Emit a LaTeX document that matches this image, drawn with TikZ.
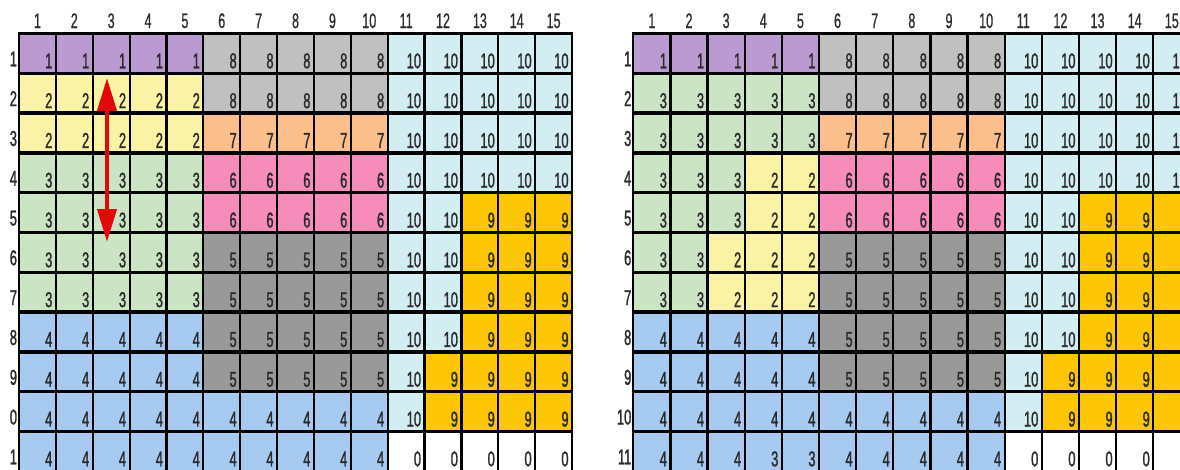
\documentclass[tikz,border=0pt]{standalone}
\usepackage{fontspec}
\newfontfamily\condfont[FakeStretch=0.6,FakeBold=1.2]{Liberation Sans}
\newfontfamily\hdrfont[FakeStretch=0.6,FakeBold=0.6]{Liberation Sans}
\usetikzlibrary{arrows.meta}
\definecolor{k0}{HTML}{FFFFFF}
\definecolor{k1}{HTML}{BA9AD0}
\definecolor{k2}{HTML}{FAF2A4}
\definecolor{k3}{HTML}{CBE4C4}
\definecolor{k4}{HTML}{A6CAF0}
\definecolor{k5}{HTML}{999999}
\definecolor{k6}{HTML}{F58CB9}
\definecolor{k7}{HTML}{FBBF8B}
\definecolor{k8}{HTML}{C0C0C0}
\definecolor{k9}{HTML}{FDC604}
\definecolor{k10}{HTML}{D3EEF2}
\definecolor{txt}{HTML}{2B2B2B}
\definecolor{arrowred}{HTML}{E00808}
\tikzset{
  cellbox/.style={rectangle, inner sep=0pt, outer sep=0pt, draw=none},
  numtxt/.style={inner sep=0pt, outer sep=0pt, text=txt, font=\condfont\fontsize{21.5}{24}\selectfont},
  hdrtxt/.style={inner sep=0pt, outer sep=0pt, text=txt, font=\hdrfont\fontsize{21}{24}\selectfont},
  hline/.style={line width=3.4pt, draw=black},
  vline/.style={line width=2.2pt, draw=black},
  dblarrow/.style={line width=4pt, draw=arrowred, {Triangle[width=19pt 0 0,length=33pt 0 0]}-{Triangle[width=19pt 0 0,length=33pt 0 0]}}
}
% #1 prefix, #2 left x, #3 column width, #4 row labels, #5 data
\newcommand\drawgrid[5]{%
  \foreach \row [count=\r] in {#5} {
    \foreach \v/\k [count=\c] in \row {
      \pgfmathsetmacro\cx{#2+(\c-0.5)*#3}
      \pgfmathsetmacro\cy{33.5+(\r-0.5)*39.8}
      \node[cellbox, fill=k\k, minimum width=#3pt, minimum height=39.8pt] (#1-\r-\c) at (\cx,\cy) {};
    }
  }
  \foreach \i in {0,...,11} {
    \pgfmathsetmacro\yy{33.5+\i*39.8}
    \draw[hline] (#2-1,\yy) -- (#2+15*#3+1,\yy);
  }
  \foreach \j in {0,...,15} {
    \pgfmathsetmacro\xx{#2+\j*#3}
    \draw[vline] (\xx,33.5) -- (\xx,33.5+11*39.8);
  }
  \foreach \row [count=\r] in {#5} {
    \foreach \v/\k [count=\c] in \row {
      \node[numtxt, anchor=base east, xshift=-3.5pt, yshift=5pt] (#1-\r-\c-n) at (#1-\r-\c.south east) {\v};
    }
  }
  \foreach \c in {1,...,15} {
    \pgfmathsetmacro\cx{#2+(\c-0.5)*#3}
    \node[hdrtxt, anchor=base] (#1-h\c) at (\cx,28) {\c};
  }
  \foreach \lab [count=\r] in {#4} {
    \pgfmathsetmacro\cy{33.5+\r*39.8-7}
    \node[numtxt, anchor=base east] (#1-r\r) at (#2-2,\cy) {\lab};
  }
}
\begin{document}
\begin{tikzpicture}[x=1pt,y=-1pt]
\clip (0,0) rectangle (1180,469);
\fill[white] (0,0) rectangle (1180,469);
\drawgrid{L}{19}{36.87}{1,2,3,4,5,6,7,8,9,0,1}{
{1,1,1,1,1,8,8,8,8,8,10,10,10,10,10},
{2,2,2,2,2,8,8,8,8,8,10,10,10,10,10},
{2,2,2,2,2,7,7,7,7,7,10,10,10,10,10},
{3,3,3,3,3,6,6,6,6,6,10,10,10,10,10},
{3,3,3,3,3,6,6,6,6,6,10,10,9,9,9},
{3,3,3,3,3,5,5,5,5,5,10,10,9,9,9},
{3,3,3,3,3,5,5,5,5,5,10,10,9,9,9},
{4,4,4,4,4,5,5,5,5,5,10,10,9,9,9},
{4,4,4,4,4,5,5,5,5,5,10,9,9,9,9},
{4,4,4,4,4,4,4,4,4,4,10,9,9,9,9},
{4,4,4,4,4,4,4,4,4,4,0,0,0,0,0}}
\drawgrid{R}{633.3}{37.14}{1,2,3,4,5,6,7,8,9,10,11}{
{1,1,1,1,1,8,8,8,8,8,10,10,10,10,10},
{3,3,3,3,3,8,8,8,8,8,10,10,10,10,10},
{3,3,3,3,3,7,7,7,7,7,10,10,10,10,10},
{3,3,3,2,2,6,6,6,6,6,10,10,10,10,10},
{3,3,3,2,2,6,6,6,6,6,10,10,9,9,9},
{3,3,2,2,2,5,5,5,5,5,10,10,9,9,9},
{3,3,2,2,2,5,5,5,5,5,10,10,9,9,9},
{4,4,4,4,4,5,5,5,5,5,10,10,9,9,9},
{4,4,4,4,4,5,5,5,5,5,10,9,9,9,9},
{4,4,4,4,4,4,4,4,4,4,10,9,9,9,9},
{4,4,4,3/4,3/4,4,4,4,4,4,0,0,0,0,0}}
\coordinate (arrowtop) at (107,78);
\coordinate (arrowbot) at (107,242);
\draw[dblarrow] (arrowtop) -- (arrowbot);
\end{tikzpicture}
\end{document}
